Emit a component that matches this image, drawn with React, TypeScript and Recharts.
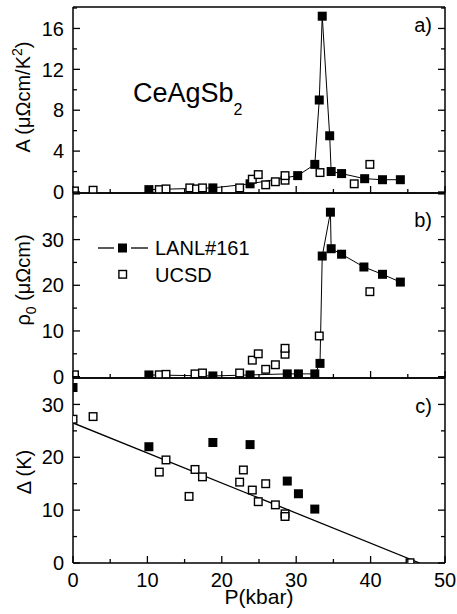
import { ComposedChart, Scatter, Line, XAxis, YAxis, Legend } from 'recharts';

const FONT = '"Liberation Sans", Arial, Helvetica, sans-serif';
const W = 457;
// axes are 1px wide, so the plot box spans x 73..445
const M = { left: 72, right: 11 };

// panel a: A coefficient (μΩcm/K²) vs pressure (kbar)
const aLanlP = [10.2, 18.8, 23.8, 30.2, 32.5, 33.1, 33.5, 34.5, 34.7, 36.1, 39.2, 41.6, 44.0];
const aLanl = [0.23, 0.4, 0.8, 1.6, 2.7, 9.0, 17.2, 5.5, 2.0, 1.8, 1.3, 1.2, 1.2];
const aUcsdP = [0.2, 2.7, 11.6, 12.5, 15.7, 16.6, 17.4, 22.4, 24.1, 24.9, 25.9, 27.2, 28.5, 28.5, 33.2, 37.8, 39.9];
const aUcsd = [0.1, 0.17, 0.23, 0.3, 0.4, 0.3, 0.4, 0.4, 1.25, 1.7, 0.7, 1.0, 1.15, 1.6, 1.9, 0.8, 2.7];

// panel b: residual resistivity ρ0 (μΩcm)
const bLanlP = [10.2, 18.8, 23.8, 28.8, 30.3, 32.5, 33.2, 33.5, 34.6, 34.7, 36.1, 39.1, 41.6, 44.0];
const bLanl = [0.37, 0.15, 0.37, 0.6, 0.6, 0.6, 2.9, 26.4, 36.0, 28.0, 26.8, 24.0, 22.4, 20.7];
const bUcsdP = [0.2, 11.6, 12.5, 16.4, 17.4, 22.4, 24.1, 24.9, 25.9, 27.2, 28.5, 28.5, 33.1, 39.9];
const bUcsd = [0.4, 0.4, 0.5, 0.6, 0.8, 0.8, 3.6, 5.0, 1.6, 2.6, 4.9, 6.2, 8.9, 18.6];

// panel c: gap Δ (K)
const cLanlP = [0, 10.2, 18.8, 23.8, 28.8, 30.3, 32.5];
const cLanl = [33.2, 22.0, 22.8, 22.4, 15.5, 13.1, 10.2];
const cUcsdP = [0, 2.7, 11.6, 12.5, 15.6, 16.4, 17.4, 22.4, 22.9, 24.1, 24.9, 25.9, 27.2, 28.5, 28.5, 45.3];
const cUcsd = [27.2, 27.7, 17.2, 19.5, 12.6, 17.7, 16.3, 15.3, 17.6, 13.8, 11.6, 15.0, 11.0, 9.3, 8.8, 0.05];
const fitP = [0, 46.6];
const fitD = [26.5, 0];

const xTicks = [0, 5, 10, 15, 20, 25, 30, 35, 40, 45, 50];
const aTicks = [0, 2, 4, 6, 8, 10, 12, 14, 16, 18];
const bTicks = [0, 5, 10, 15, 20, 25, 30, 35, 40];
const cTicks = [0, 5, 10, 15, 20, 25, 30, 35];

const rows = (p: number[], v: number[]) => p.map((x, i) => ({ p: x, v: v[i] }));

type Side = 'left' | 'right' | 'top' | 'bottom';

function makeTick(side: Side, step: number, labelMax: number | null) {
  return function Tick(props: any) {
    const { x, y, payload } = props;
    const v = payload.value as number;
    const major = Math.abs(v / step - Math.round(v / step)) < 1e-6;
    const len = major ? 7 : 4;
    const show = labelMax !== null && major && v <= labelMax;
    let l;
    if (side === 'bottom') l = <line x1={x} y1={y} x2={x} y2={y - len} />;
    else if (side === 'top') l = <line x1={x} y1={y} x2={x} y2={y + len} />;
    else if (side === 'left') l = <line x1={x} y1={y} x2={x + len} y2={y} />;
    else l = <line x1={x} y1={y} x2={x - len} y2={y} />;
    return (
      <g stroke="#000" strokeWidth={1.3}>
        {l}
        {show && side === 'bottom' && (
          <text x={x} y={y + 23.5} textAnchor="middle" fontSize={20} fill="#000" stroke="none" fontFamily={FONT}>
            {v}
          </text>
        )}
        {show && side === 'left' && (
          <text x={x - 9} y={y} dy="0.36em" textAnchor="end" fontSize={20} fill="#000" stroke="none" fontFamily={FONT}>
            {v}
          </text>
        )}
      </g>
    );
  };
}

const Filled = (props: any) => (
  <rect x={props.cx - 4.5} y={props.cy - 4.5} width={9} height={9} fill="#000" />
);
const Open = (props: any) => (
  <rect x={props.cx - 3.8} y={props.cy - 3.8} width={7.6} height={7.6} fill="#fff" stroke="#000" strokeWidth={1.4} />
);

const axisLine = { stroke: '#000', strokeWidth: 1.5 };

function LegendBox() {
  return (
    <svg width={170} height={46} style={{ overflow: 'visible' }}>
      <line x1={3} y1={13} x2={19} y2={13} stroke="#000" strokeWidth={1.3} />
      <rect x={23} y={8.5} width={9} height={9} fill="#000" />
      <line x1={36} y1={13} x2={53} y2={13} stroke="#000" strokeWidth={1.3} />
      <text x={60} y={13} dy="0.36em" fontSize={20} fontFamily={FONT}>LANL#161</text>
      <rect x={23.9} y={35.5} width={7.6} height={7.6} fill="#fff" stroke="#000" strokeWidth={1.4} />
      <text x={60} y={39.3} dy="0.36em" fontSize={20} fontFamily={FONT}>UCSD</text>
    </svg>
  );
}

interface PanelProps {
  top: number;
  height: number;
  marginTop: number;
  marginBottom: number;
  yDomain: [number, number];
  yTicks: number[];
  yStep: number;
  yLabelMax: number;
  xLabels: boolean;
  lanl: { p: number; v: number }[];
  ucsd: { p: number; v: number }[];
  joined: boolean;
  fit?: { p: number; v: number }[];
  legend?: boolean;
}

function Panel(pp: PanelProps) {
  return (
    <div style={{ position: 'absolute', left: 0, top: pp.top }}>
      <ComposedChart
        width={W}
        height={pp.height}
        margin={{ top: pp.marginTop, right: M.right, bottom: pp.marginBottom, left: M.left }}
      >
        <XAxis
          xAxisId="b"
          dataKey="p"
          type="number"
          domain={[0, 50]}
          ticks={xTicks}
          interval={0}
          allowDataOverflow
          height={1}
          tickSize={0}
          tickMargin={0}
          tickLine={false}
          axisLine={axisLine}
          tick={makeTick('bottom', 10, pp.xLabels ? 50 : null)}
        />
        <XAxis
          xAxisId="t"
          orientation="top"
          type="number"
          domain={[0, 50]}
          ticks={xTicks}
          interval={0}
          allowDataOverflow
          height={1}
          tickSize={0}
          tickMargin={0}
          tickLine={false}
          axisLine={axisLine}
          tick={makeTick('top', 10, null)}
        />
        <YAxis
          yAxisId="l"
          dataKey="v"
          type="number"
          domain={pp.yDomain}
          ticks={pp.yTicks}
          interval={0}
          allowDataOverflow
          width={1}
          tickSize={0}
          tickMargin={0}
          tickLine={false}
          axisLine={axisLine}
          tick={makeTick('left', pp.yStep, pp.yLabelMax)}
        />
        <YAxis
          yAxisId="r"
          orientation="right"
          type="number"
          domain={pp.yDomain}
          ticks={pp.yTicks}
          interval={0}
          allowDataOverflow
          width={1}
          tickSize={0}
          tickMargin={0}
          tickLine={false}
          axisLine={axisLine}
          tick={makeTick('right', pp.yStep, null)}
        />
        {pp.fit && (
          <Line
            xAxisId="b"
            yAxisId="l"
            data={pp.fit}
            dataKey="v"
            stroke="#000"
            strokeWidth={1.3}
            dot={false}
            activeDot={false}
            isAnimationActive={false}
          />
        )}
        <Scatter
          name="LANL#161"
          xAxisId="b"
          yAxisId="l"
          data={pp.lanl}
          dataKey="v"
          shape={Filled}
          line={pp.joined ? { stroke: '#000', strokeWidth: 1 } : false}
          lineType="joint"
          isAnimationActive={false}
        />
        <Scatter
          name="UCSD"
          xAxisId="b"
          yAxisId="l"
          data={pp.ucsd}
          dataKey="v"
          shape={Open}
          isAnimationActive={false}
        />
        {pp.legend && (
          <Legend
            layout="vertical"
            align="center"
            verticalAlign="middle"
            content={<LegendBox />}
            wrapperStyle={{ left: 95, top: 43, width: 170, height: 46 }}
          />
        )}
      </ComposedChart>
    </div>
  );
}

export default function App() {
  return (
    <div
      style={{
        position: 'absolute',
        left: 0,
        top: 0,
        width: W,
        height: 614,
        background: '#fff',
        fontFamily: FONT,
      }}
    >
      <style>{'.recharts-surface{overflow:visible}'}</style>
      <Panel
        top={0}
        height={194}
        marginTop={6}
        marginBottom={0}
        yDomain={[-0.1, 18.1]}
        yTicks={aTicks}
        yStep={4}
        yLabelMax={16}
        xLabels={false}
        lanl={rows(aLanlP, aLanl)}
        ucsd={rows(aUcsdP, aUcsd)}
        joined
      />
      <Panel
        top={192}
        height={187}
        marginTop={0}
        marginBottom={0}
        yDomain={[-0.3, 40.2]}
        yTicks={bTicks}
        yStep={10}
        yLabelMax={30}
        xLabels={false}
        lanl={rows(bLanlP, bLanl)}
        ucsd={rows(bUcsdP, bUcsd)}
        joined
        legend
      />
      <Panel
        top={377}
        height={237}
        marginTop={0}
        marginBottom={50}
        yDomain={[0, 35]}
        yTicks={cTicks}
        yStep={10}
        yLabelMax={30}
        xLabels
        lanl={rows(cLanlP, cLanl)}
        ucsd={rows(cUcsdP, cUcsd)}
        joined={false}
        fit={rows(fitP, fitD)}
      />
      <svg
        width={W}
        height={614}
        style={{ position: 'absolute', left: 0, top: 0, pointerEvents: 'none' }}
        fontFamily={FONT}
        fill="#000"
      >
        <text x={30} y={97} transform="rotate(-90 30 97)" textAnchor="middle" fontSize={20}>
          A (μΩcm/K<tspan dy={-8} fontSize={14}>2</tspan><tspan dy={8}>)</tspan>
        </text>
        <text x={30} y={280} transform="rotate(-90 30 280)" textAnchor="middle" fontSize={20}>
          ρ<tspan dy={6} fontSize={14}>0</tspan><tspan dy={-6}> (μΩcm)</tspan>
        </text>
        <text x={31} y={472} transform="rotate(-90 31 472)" textAnchor="middle" fontSize={20}>
          Δ (K)
        </text>
        <text x={259} y={604} textAnchor="middle" fontSize={21}>P(kbar)</text>
        <text x={133} y={101.5} fontSize={27}>
          CeAgSb<tspan dy={13} fontSize={16}>2</tspan>
        </text>
        <text x={432} y={32} textAnchor="end" fontSize={20}>a)</text>
        <text x={432} y={227} textAnchor="end" fontSize={20}>b)</text>
        <text x={432} y={413} textAnchor="end" fontSize={20}>c)</text>
      </svg>
    </div>
  );
}
